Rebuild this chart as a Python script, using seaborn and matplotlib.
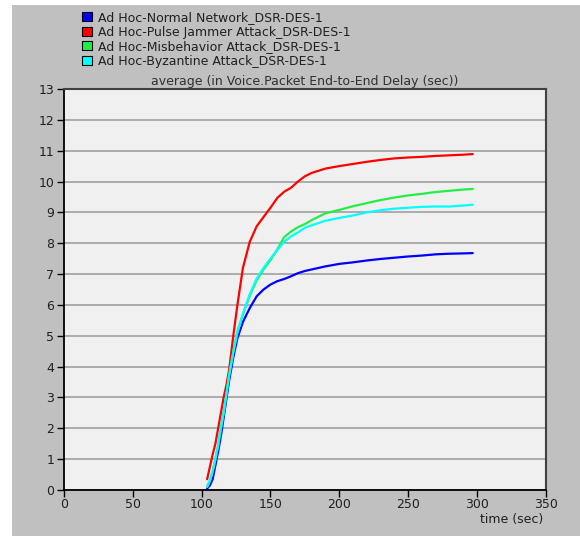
import numpy as np
import pandas as pd
import matplotlib
matplotlib.use("Agg")
import matplotlib.pyplot as plt
from matplotlib.patches import Patch, Rectangle
import seaborn as sns

# ---- data -------------------------------------------------------------
time_sec = [104, 106, 108, 110, 112, 114, 116, 118, 120, 123, 126, 130, 135,
            140, 145, 150, 155, 160, 165, 170, 175, 180, 190, 200, 210, 220,
            230, 240, 250, 260, 270, 280, 290, 297]

normal = [0.05, 0.15, 0.35, 0.8, 1.25, 1.75, 2.35, 2.95, 3.55, 4.3, 4.92, 5.45,
          5.9, 6.28, 6.5, 6.66, 6.77, 6.84, 6.93, 7.03, 7.1, 7.15, 7.25, 7.33,
          7.38, 7.44, 7.49, 7.53, 7.57, 7.6, 7.64, 7.66, 7.67, 7.68]

pulse_jammer = [0.35, 0.75, 1.15, 1.5, 2.0, 2.5, 3.0, 3.4, 3.9, 5.0, 6.0, 7.2,
                8.05, 8.55, 8.85, 9.15, 9.47, 9.67, 9.8, 10.0, 10.17, 10.28,
                10.42, 10.5, 10.57, 10.64, 10.7, 10.75, 10.78, 10.8, 10.83,
                10.85, 10.87, 10.89]

misbehavior = [0.12, 0.3, 0.6, 1.0, 1.45, 2.0, 2.5, 3.1, 3.75, 4.5, 5.15, 5.7,
               6.3, 6.8, 7.15, 7.45, 7.8, 8.2, 8.38, 8.52, 8.62, 8.75, 8.97,
               9.08, 9.2, 9.3, 9.4, 9.48, 9.55, 9.6, 9.66, 9.7, 9.74, 9.76]

byzantine = [0.1, 0.3, 0.6, 1.0, 1.45, 2.0, 2.5, 3.1, 3.7, 4.45, 5.1, 5.7,
             6.35, 6.85, 7.2, 7.5, 7.78, 8.05, 8.22, 8.35, 8.5, 8.58, 8.73,
             8.82, 8.9, 9.0, 9.07, 9.12, 9.15, 9.18, 9.19, 9.19, 9.22, 9.25]

series_names = ["Ad Hoc-Normal Network_DSR-DES-1",
                "Ad Hoc-Pulse Jammer Attack_DSR-DES-1",
                "Ad Hoc-Misbehavior Attack_DSR-DES-1",
                "Ad Hoc-Byzantine Attack_DSR-DES-1"]
series_values = [normal, pulse_jammer, misbehavior, byzantine]
series_colors = ["#0000FF", "#FF0000", "#22EE44", "#00FFFF"]

x_ticks = [0, 50, 100, 150, 200, 250, 300, 350]
y_ticks = list(range(0, 14))

title_text = "average (in Voice.Packet End-to-End Delay (sec))"
xlabel_text = "time (sec)"

# ---- build frame -------------------------------------------------------
frames = []
for name, vals in zip(series_names, series_values):
    frames.append(pd.DataFrame({"time": time_sec, "delay": vals, "series": name}))
df = pd.concat(frames, ignore_index=True)

# ---- figure -----------------------------------------------------------
sns.set_theme(style="white")
plt.rcParams["font.family"] = ["DejaVu Sans"]

W, H = 580, 536
fig = plt.figure(figsize=(W / 100, H / 100), dpi=100)
fig.patch.set_facecolor("white")
# gray panel
fig.add_artist(Rectangle((12 / W, 0), 1 - 12 / W, (H - 5) / H,
                         transform=fig.transFigure, facecolor="#C0C0C0",
                         edgecolor="none", zorder=-10))

ax = fig.add_axes([64 / W, (H - 490) / H, (545.7 - 64) / W, (490 - 89) / H])
ax.set_facecolor("#F0F0F0")

palette = dict(zip(series_names, series_colors))
sns.lineplot(data=df, x="time", y="delay", hue="series", palette=palette,
             hue_order=series_names, linewidth=1.6, ax=ax, legend=False,
             sort=False)

ax.set_xlim(0, 350)
ax.set_ylim(0, 13)
ax.set_xticks(x_ticks)
ax.set_yticks(y_ticks)
ax.set_xticklabels([str(v) for v in x_ticks], fontsize=9, color="#202020")
ax.set_yticklabels([str(v) for v in y_ticks], fontsize=9, color="#202020")
ax.tick_params(axis="both", direction="out", length=5, width=1, color="black",
               pad=2, bottom=True, left=True)
ax.tick_params(axis="x", pad=1)
ax.yaxis.grid(True, color="#A0A0A0", linewidth=1.2)
ax.xaxis.grid(False)
ax.set_axisbelow(True)

for side in ["left", "bottom"]:
    ax.spines[side].set_color("black")
    ax.spines[side].set_linewidth(1.3)
for side in ["top", "right"]:
    ax.spines[side].set_color("#404040")
    ax.spines[side].set_linewidth(1.5)

ax.set_xlabel("")
ax.set_ylabel("")
ax.set_title(title_text, fontsize=9, color="#303030", pad=3)
fig.text(543 / W, (H - 519) / H, xlabel_text, ha="right", va="center",
         fontsize=9, color="#202020")

handles = [Patch(facecolor=c, edgecolor="black", linewidth=0.8) for c in series_colors]
fig.legend(handles, series_names, loc="upper left",
           bbox_to_anchor=(76 / W, (H - 5) / H), frameon=False,
           fontsize=9, handlelength=0.75, handleheight=0.75, handletextpad=0.5,
           labelspacing=0.12, borderpad=0, labelcolor="#202020")

fig.savefig("out.png", dpi=100, facecolor=fig.get_facecolor())
